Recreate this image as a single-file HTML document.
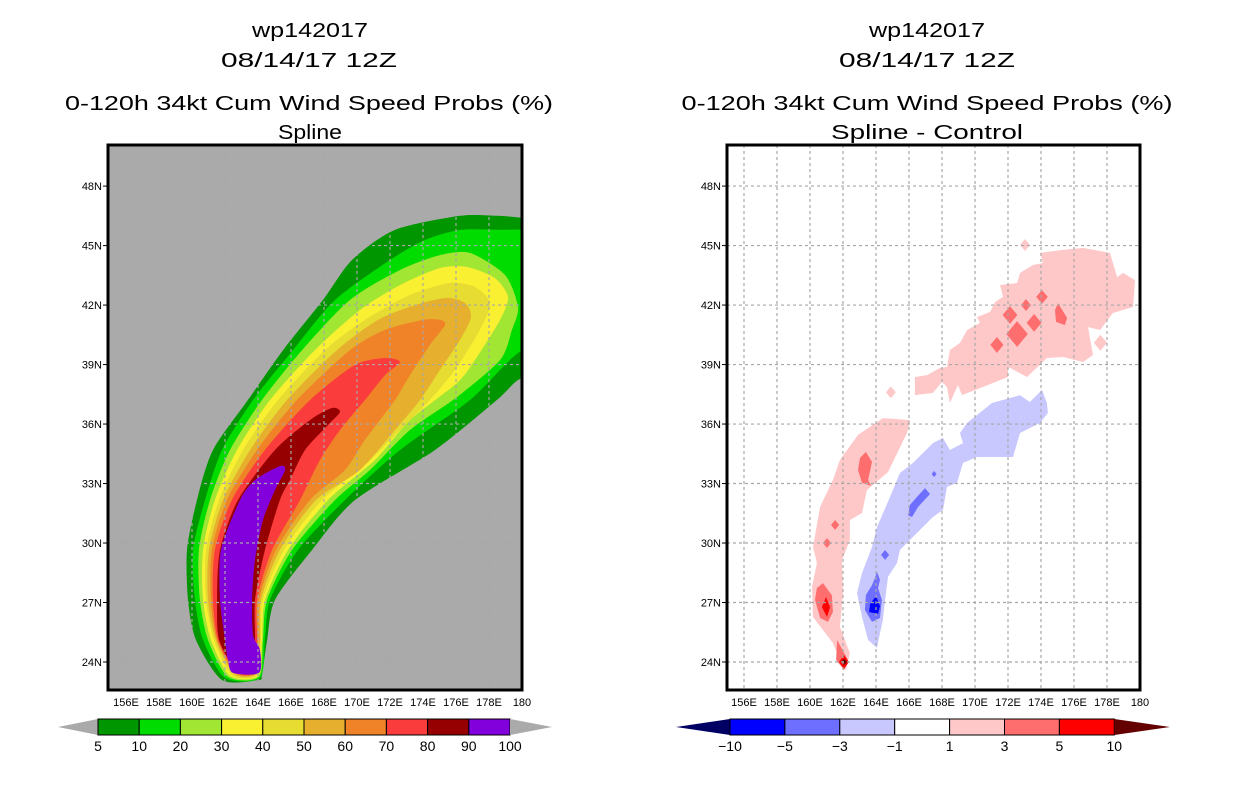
<!DOCTYPE html>
<html><head><meta charset="utf-8"><style>
html,body{margin:0;padding:0;background:#fff;}
svg{display:block;font-family:"Liberation Sans",sans-serif;}
</style></head><body>
<svg id="root" width="1236" height="800" viewBox="0 0 1236 800" xmlns="http://www.w3.org/2000/svg">
<defs>
<clipPath id="clipL"><rect x="108" y="145" width="414" height="545"/></clipPath>
<clipPath id="clipR"><rect x="727" y="145" width="413" height="545"/></clipPath>
</defs>
<g font-size="20" text-anchor="middle" fill="#000">
<text x="310" y="37" textLength="116" lengthAdjust="spacingAndGlyphs">wp142017</text>
<text x="309" y="67" textLength="176" lengthAdjust="spacingAndGlyphs">08/14/17 12Z</text>
<text x="309" y="110" textLength="488" lengthAdjust="spacingAndGlyphs">0-120h 34kt Cum Wind Speed Probs (%)</text>
<text x="310" y="139" textLength="64" lengthAdjust="spacingAndGlyphs">Spline</text>
</g>
<g font-size="20" text-anchor="middle" fill="#000">
<text x="927" y="37" textLength="116" lengthAdjust="spacingAndGlyphs">wp142017</text>
<text x="927" y="67" textLength="176" lengthAdjust="spacingAndGlyphs">08/14/17 12Z</text>
<text x="927" y="110" textLength="491" lengthAdjust="spacingAndGlyphs">0-120h 34kt Cum Wind Speed Probs (%)</text>
<text x="927" y="139" textLength="192" lengthAdjust="spacingAndGlyphs">Spline - Control</text>
</g>
<g id="leftPanel"></g>
<g id="rightPanel"></g>
<g id="leftBar"></g>
<g id="rightBar"></g>
</svg>
<script>
const lonTicks=[156,158,160,162,164,166,168,170,172,174,176,178,180];
const lonTickLabels=["156E","158E","160E","162E","164E","166E","168E","170E","172E","174E","176E","178E","180"];
const latTicks=[24,27,30,33,36,39,42,45,48];
const latTickLabels=["24N","27N","30N","33N","36N","39N","42N","45N","48N"];

const leftLevels=[5,10,20,30,40,50,60,70,80,90,100];
const leftColors=["#009600","#00dc00","#a0e632","#faf032","#e6dc32","#e6af2d","#f08228","#fa3c3c","#960000","#8200dc"];

const contour5=[[161.82,23.09],[160.24,25.11],[159.76,27.13],[159.70,29.65],[160.30,32.17],[161.27,34.69],[163.39,37.21],[165.52,39.73],[167.94,42.26],[169.70,44.27],[172.30,45.79],[176.24,46.5],[178.5,46.5],[180,46.4],[182,46.2],[182,37.8],[180,38.3],[178.48,37.21],[174.73,34.69],[169.88,32.17],[167.27,29.65],[165.03,27.13],[164.55,25.11],[164.24,23.34],[164.0,23.09]];
const contour10=[[162.0,23.2],[160.67,25.11],[160.18,27.13],[160.06,29.65],[160.79,32.17],[161.82,34.69],[163.70,37.21],[166.12,39.73],[168.67,42.26],[172.0,44.27],[174.12,45.28],[176.24,45.79],[178.5,45.8],[180,45.8],[182,45.7],[182,39.0],[180,39.7],[176.85,37.21],[172.61,34.69],[169.27,32.17],[166.42,29.65],[164.73,27.13],[164.42,25.11],[164.12,23.2]];
const contour20=[[162.18,23.25],[160.97,25.11],[160.48,27.13],[160.42,29.65],[161.09,32.17],[162.30,34.69],[164.24,37.21],[166.67,39.73],[169.58,42.26],[172.61,43.77],[175.03,44.52],[176.85,44.63],[178.97,43.52],[179.76,41.90],[179.39,40.74],[178.67,39.23],[176.06,37.36],[173.21,35.7],[170.79,33.68],[168.67,32.17],[166.06,29.65],[164.55,27.13],[164.30,25.11],[164.06,23.25]];
const contour30=[[162.30,23.3],[161.15,25.11],[160.67,27.13],[160.67,29.65],[161.39,32.17],[162.73,34.69],[164.73,37.21],[167.45,39.73],[170.18,41.75],[172.61,43.01],[175.03,43.87],[176.67,43.92],[178.36,43.36],[179.15,42.41],[178.67,41.25],[177.15,39.23],[176.06,38.07],[173.21,36.2],[171.09,34.19],[168.24,32.17],[165.82,29.65],[164.42,27.13],[164.24,25.11],[164.0,23.3]];
const contour40=[[162.42,23.34],[161.33,25.11],[160.85,27.13],[160.85,29.65],[161.64,32.17],[163.09,34.69],[165.21,37.21],[168.06,39.73],[170.48,41.25],[173.21,42.51],[175.64,43.11],[177.15,42.91],[178.06,42.10],[177.45,40.74],[175.94,38.73],[174.42,37.21],[172.61,35.7],[170.48,33.93],[167.88,32.17],[165.58,29.65],[164.30,27.13],[164.18,25.11],[163.94,23.34]];
const contour50=[[162.55,23.4],[161.45,25.11],[160.97,27.13],[161.03,29.65],[161.88,32.17],[163.52,34.69],[165.76,37.21],[168.79,39.73],[171.27,41.25],[173.52,42.0],[175.45,42.36],[176.55,42.10],[176.91,41.40],[176.24,40.24],[175.03,38.73],[173.82,37.21],[172.30,35.7],[170.18,33.68],[167.52,32.17],[165.33,29.65],[164.18,27.13],[164.12,25.11],[163.88,23.4]];
const contour60=[[162.61,23.45],[161.52,25.11],[161.15,27.13],[161.21,29.65],[162.12,32.17],[163.94,34.69],[166.36,37.21],[169.58,39.73],[171.70,40.74],[174.0,41.25],[175.03,41.25],[175.33,40.99],[174.42,39.99],[173.21,38.47],[172.30,37.21],[170.48,35.2],[169.27,33.68],[167.15,32.17],[165.09,29.65],[164.06,27.13],[164.0,25.11],[163.82,23.45]];
const contour70=[[162.67,23.5],[161.58,25.11],[161.27,27.13],[161.39,29.65],[162.42,32.17],[164.42,34.69],[167.15,37.21],[169.88,38.98],[171.70,39.33],[172.61,39.13],[171.70,38.47],[170.48,37.21],[168.97,35.7],[167.76,34.19],[166.55,32.17],[164.85,29.65],[163.94,27.13],[163.94,25.11],[163.76,23.5]];
const contour80=[[162.73,23.55],[161.64,25.11],[161.52,27.13],[161.70,29.65],[162.79,32.17],[165.03,34.69],[167.15,36.2],[168.48,36.81],[168.97,36.61],[168.24,35.95],[166.85,34.69],[165.94,33.18],[165.33,32.17],[164.42,29.65],[163.82,27.13],[163.82,25.11],[163.70,23.55]];
const contour90=[[162.48,23.45],[162.18,24.10],[162.0,25.11],[161.70,27.13],[161.76,29.65],[162.91,32.17],[163.82,33.18],[165.33,33.88],[165.64,33.68],[165.03,32.67],[164.30,31.16],[163.82,29.14],[163.64,27.13],[163.70,25.36],[164.12,24.6],[164.06,23.45]];
const leftContours=[contour5,contour10,contour20,contour30,contour40,contour50,contour60,contour70,contour80,contour90];

const rightLabels=["-10","-5","-3","-1","1","3","5","10"];
const rightColors=["#0000ff","#6e6eff","#c8c8ff","#ffffff","#ffc8c8","#ff6e6e","#ff0000"];
const rightLowTip="#000064";
const rightHighTip="#640000";

const pinkLowerArm=[[162.0,23.7],[161.39,24.96],[160.18,26.27],[160.12,27.78],[160.42,28.99],[160.18,29.80],[160.61,31.82],[161.39,33.18],[161.82,34.19],[162.91,35.45],[164.42,36.30],[166.06,36.20],[165.88,35.55],[164.73,33.58],[163.45,32.67],[163.15,31.51],[162.42,31.16],[162.42,30.15],[161.94,29.14],[162.0,27.48],[161.82,25.77],[162.42,24.45],[162.18,23.60]];
const pinkUpperArm=[[166.36,38.37],[166.36,37.46],[167.45,37.57],[168.0,38.12],[168.30,37.87],[168.48,37.06],[168.97,37.97],[169.21,37.46],[170.48,37.87],[172.0,38.37],[172.0,38.88],[173.15,38.37],[174.36,39.33],[175.33,39.38],[176.55,39.13],[177.15,39.48],[176.85,40.89],[177.58,40.74],[178.36,41.60],[179.58,41.90],[179.70,43.26],[178.97,43.62],[178.61,43.41],[178.18,44.63],[176.55,44.88],[175.33,44.78],[173.94,44.63],[174.12,44.12],[173.52,44.02],[172.73,43.62],[172.55,43.11],[171.52,43.01],[171.70,42.41],[171.21,42.15],[170.91,41.65],[170.12,41.40],[170.30,41.10],[169.52,40.74],[169.09,40.09],[168.48,39.73],[168.30,38.88],[167.88,38.83],[167.09,38.47]];
const blueArm=[[164.06,24.71],[163.52,25.11],[163.15,26.27],[162.85,27.48],[163.15,28.49],[163.76,29.80],[164.06,30.81],[164.85,32.32],[165.45,33.53],[166.24,34.04],[167.45,35.04],[168.06,35.30],[168.48,34.69],[169.27,35.04],[169.09,35.55],[169.52,36.05],[171.03,37.06],[172.73,37.46],[173.33,37.11],[174.06,37.72],[174.36,37.06],[174.42,36.56],[173.94,36.05],[172.73,35.55],[172.30,34.34],[170.12,34.34],[169.27,34.04],[168.91,33.03],[168.30,32.83],[168.06,31.67],[167.45,31.31],[165.45,29.65],[165.27,28.99],[164.73,28.29],[164.55,27.13],[164.42,26.12],[164.24,25.46]];
const redBlobMid=[[163.39,34.59],[163.76,34.09],[163.52,33.18],[163.70,32.88],[163.15,33.03],[162.91,33.68],[163.03,34.29]];
const redBlobLow=[[160.79,27.98],[161.33,27.37],[161.39,26.52],[161.09,26.02],[160.61,26.22],[160.30,27.13],[160.42,27.73]];
const brightRedLow=[[160.97,27.28],[161.21,26.77],[161.03,26.27],[160.73,26.77]];
const redBlobTip=[[161.64,25.11],[162.30,24.10],[162.06,23.6],[161.58,24.10]];
const brightRedTip=[[162.06,24.35],[162.36,24.0],[162.06,23.65],[161.76,24.0]];
const darkRedTip=[[162.06,24.15],[162.24,24.0],[162.06,23.85],[161.88,24.0]];
const redBlobUpper=[[175.03,42.10],[175.58,41.35],[175.45,40.99],[174.91,41.15],[174.85,41.75]];
const blueBlobLow=[[164.06,28.54],[164.24,28.14],[164.12,27.73],[164.36,27.13],[164.24,26.22],[163.76,26.02],[163.33,26.62],[163.39,27.38],[163.76,27.88],[163.94,28.24]];
const deepBlueLow=[[164.0,27.33],[164.24,26.82],[164.12,26.42],[163.58,26.52],[163.64,26.92]];
const blueBlobMid=[[166.97,32.77],[167.27,32.47],[166.55,31.82],[166.18,31.31],[165.94,31.41],[166.06,31.92],[166.48,32.32]];
const rightShapes=[[pinkLowerArm,4],[pinkUpperArm,4],[blueArm,2],[redBlobMid,5],[redBlobLow,5],[brightRedLow,6],[redBlobTip,5],[brightRedTip,6],[darkRedTip,7],[redBlobUpper,5],[blueBlobLow,1],[deepBlueLow,0],[blueBlobMid,1]];
const spotLon=[161.52,161.03,174.06,173.09,172.12,173.58,172.55,171.33,164.55,167.52,173.03,177.6,164.9];
const spotLat=[30.91,30.0,42.41,42.0,41.50,41.10,40.54,39.99,29.40,33.48,45.03,40.1,37.6];
const spotSize=[0.25,0.25,0.35,0.3,0.45,0.45,0.65,0.4,0.25,0.15,0.3,0.4,0.3];
const spotClass=[5,5,5,5,5,5,5,5,1,1,4,4,4];

const NS="http://www.w3.org/2000/svg";
function yLat(lat){return 662-(lat-24)*19.83;}
function xLonL(lon){return 126+(lon-156)*16.5;}
function xLonR(lon){return 744+(lon-156)*16.5;}
function mk(tag,attrs,parent){const e=document.createElementNS(NS,tag);for(const k in attrs)e.setAttribute(k,attrs[k]);parent.appendChild(e);return e;}

function drawPanel(g,xf,boxX,boxW,bg,clipId,side){
  const bgR=mk('rect',{x:boxX,y:145,width:boxW,height:545,fill:bg},g);
  
  
  const cg=mk('g',{'clip-path':'url(#'+clipId+')'},g);
  
  
  return cg;
}
function poly(pts,xf,fill,parent,name){
  const p=mk('polygon',{points:pts.map(q=>xf(q[0]).toFixed(1)+','+yLat(q[1]).toFixed(1)).join(' '),fill:fill},parent);
  
  
  return p;
}
function smooth(pts,xf,fill,parent,name){
  const P=pts.map(q=>[xf(q[0]),yLat(q[1])]);const n=P.length;const t=0.13;
  let d='M'+P[0][0].toFixed(1)+','+P[0][1].toFixed(1);
  for(let i=0;i<n;i++){
    const p0=P[(i-1+n)%n],p1=P[i],p2=P[(i+1)%n],p3=P[(i+2)%n];
    const c1=[p1[0]+(p2[0]-p0[0])*t,p1[1]+(p2[1]-p0[1])*t];
    const c2=[p2[0]-(p3[0]-p1[0])*t,p2[1]-(p3[1]-p1[1])*t];
    d+='C'+c1[0].toFixed(1)+','+c1[1].toFixed(1)+' '+c2[0].toFixed(1)+','+c2[1].toFixed(1)+' '+p2[0].toFixed(1)+','+p2[1].toFixed(1);
  }
  const p=mk('path',{d:d+'Z',fill:fill},parent);
  
  
  return p;
}
function drawGridAxes(g,xf,boxX,boxW,clipId,side,labelX){
  const gg=mk('g',{'clip-path':'url(#'+clipId+')',stroke:'#a8a8a8','stroke-width':1.2,'stroke-dasharray':'3,3'},g);
  
  
  lonTicks.forEach(l=>{mk('line',{x1:xf(l),x2:xf(l),y1:145,y2:690},gg);});
  latTicks.forEach(l=>{mk('line',{x1:boxX,x2:boxX+boxW,y1:yLat(l),y2:yLat(l)},gg);});
  const box=mk('rect',{x:boxX,y:145,width:boxW,height:545,fill:'none',stroke:'#000','stroke-width':3},g);
  
  
  const xa=mk('g',{'font-size':11,'text-anchor':'middle',fill:'#000'},g);
  
  
  lonTicks.forEach((l,i)=>{const t=mk('text',{x:xf(l),y:706},xa);t.textContent=lonTickLabels[i];
    
    });
  const ya=mk('g',{'font-size':11,'text-anchor':'end',fill:'#000'},g);
  
  
  latTicks.forEach((l,i)=>{const t=mk('text',{x:labelX,y:yLat(l)+4},ya);t.textContent=latTickLabels[i];
    
    
    mk('line',{x1:boxX-5,x2:boxX,y1:yLat(l),y2:yLat(l),stroke:'#000','stroke-width':1},ya);});
}

// left
const lp=document.getElementById('leftPanel');
const lcg=drawPanel(lp,xLonL,108,414,'#aaaaaa','clipL','left');
leftContours.forEach((c,i)=>smooth(c,xLonL,leftColors[i],lcg,'prob-band-'+leftLevels[i]));
drawGridAxes(lp,xLonL,108,414,'clipL','left',102);

// right
const rp=document.getElementById('rightPanel');
const rcg=drawPanel(rp,xLonR,727,413,'#ffffff','clipR','right');
const allRightColors=rightColors.concat([rightHighTip]);
const rightNames=["diff-below-minus5","diff-minus5-minus3","diff-minus3-minus1","diff-near-zero","diff-1-3","diff-3-5","diff-5-10","diff-above-10"];
rightShapes.forEach(s=>poly(s[0],xLonR,allRightColors[s[1]],rcg,rightNames[s[1]]));
spotLon.forEach((lo,i)=>{
  const r=spotSize[i],la=spotLat[i];
  poly([[lo,la+r],[lo+r,la],[lo,la-r],[lo-r,la]],xLonR,allRightColors[spotClass[i]],rcg,'diff-spot');
});
drawGridAxes(rp,xLonR,727,413,'clipR','right',721);

// left colorbar
const lb=document.getElementById('leftBar');
const lbX0=98,lbW=41.2,cbY=719,cbH=16;
const lt=mk('polygon',{points:`58,727 ${lbX0},${cbY} ${lbX0},${cbY+cbH}`,fill:'#aaaaaa'},lb);


leftColors.forEach((c,i)=>{const r=mk('rect',{x:lbX0+i*lbW,y:cbY,width:lbW,height:cbH,fill:c,stroke:'#000','stroke-width':1},lb);
  
  });
const lbEnd=lbX0+leftColors.length*lbW;
const ht=mk('polygon',{points:`${lbEnd},${cbY} 552,727 ${lbEnd},${cbY+cbH}`,fill:'#aaaaaa'},lb);


leftLevels.forEach((v,i)=>{const t=mk('text',{x:lbX0+i*lbW,y:751,'font-size':14,'text-anchor':'middle'},lb);t.textContent=String(v);
  
  });

// right colorbar
const rb=document.getElementById('rightBar');
const rbX0=730,rbW=54.9;
const rlt=mk('polygon',{points:`676,727 ${rbX0},${cbY} ${rbX0},${cbY+cbH}`,fill:rightLowTip},rb);


rightColors.forEach((c,i)=>{const r=mk('rect',{x:rbX0+i*rbW,y:cbY,width:rbW,height:cbH,fill:c,stroke:'#000','stroke-width':1},rb);
  
  });
const rbEnd=rbX0+rightColors.length*rbW;
const rht=mk('polygon',{points:`${rbEnd},${cbY} 1170,727 ${rbEnd},${cbY+cbH}`,fill:rightHighTip},rb);


rightLabels.forEach((v,i)=>{const t=mk('text',{x:rbX0+i*rbW,y:751,'font-size':14,'text-anchor':'middle'},rb);t.textContent=v.replace('-','\u2212');
  
  });
</script>
</body></html>
